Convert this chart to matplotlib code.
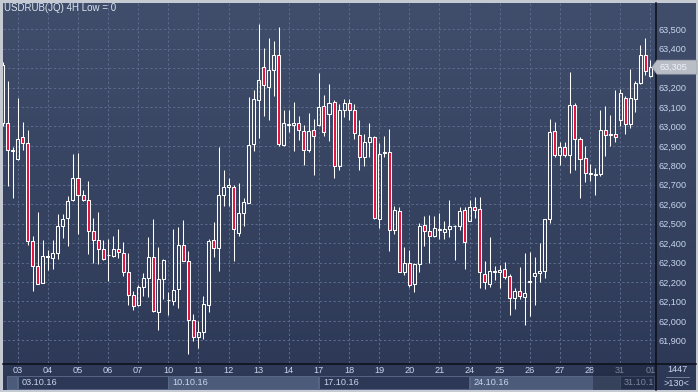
import numpy as np
import matplotlib
matplotlib.use("Agg")
import matplotlib.pyplot as plt
from matplotlib.patches import Rectangle, Polygon

# USDRUB 4H candles (130 visible bars)
opens = [63318, 63018, 62875, 62830, 62946, 62915, 62413, 62282, 62193, 62328,
         62324, 62350, 62487, 62529, 62620, 62735, 62649, 62622, 62464, 62418,
         62367, 62337, 62334, 62370, 62350, 62252, 62133, 62082, 62174, 62221,
         62329, 62045, 62216, 62105, 62101, 62164, 62392, 62310, 62003, 61917,
         61941, 62081, 62418, 62373, 62646, 62689, 62689, 62454, 62555, 62607,
         62910, 63137, 63305, 63204, 63290, 63368, 62903, 63008, 63008, 63018,
         62979, 62881, 62982, 63005, 63104, 63066, 63124, 62795, 63082, 63121,
         63082, 62955, 62843, 62919, 62946, 62522, 62862, 62871, 62466, 62566,
         62249, 62300, 62189, 62292, 62492, 62463, 62435, 62468, 62459, 62470,
         62486, 62488, 62572, 62516, 62588, 62576, 62241, 62191, 62250, 62250,
         62265, 62231, 62116, 62154, 62123, 62201, 62231, 62246, 62258, 62524,
         62975, 62854, 62893, 62852, 63109, 62934, 62838, 62756, 62751, 62756,
         62982, 62956, 62962, 63032, 63147, 63010, 63142, 63224, 63370, 63258]
highs = [63330, 63236, 62893, 63147, 63024, 62984, 62436, 62562, 62418, 62363,
         62415, 62547, 62547, 62641, 62856, 62864, 62675, 62721, 62530, 62560,
         62418, 62423, 62436, 62470, 62405, 62350, 62152, 62183, 62247, 62432,
         62525, 62382, 62319, 62148, 62471, 62484, 62521, 62358, 62035, 62000,
         62126, 62420, 62507, 62893, 62778, 62736, 62701, 62710, 62632, 63152,
         63185, 63525, 63405, 63456, 63442, 63512, 63087, 63087, 63125, 63053,
         63009, 63070, 63036, 63277, 63162, 63216, 63138, 63113, 63142, 63142,
         63113, 63032, 62960, 63018, 62953, 62913, 62953, 62986, 62591, 62586,
         62381, 62365, 62300, 62502, 62540, 62545, 62540, 62557, 62511, 62619,
         62495, 62584, 62584, 62624, 62636, 62639, 62310, 62429, 62280, 62289,
         62304, 62239, 62167, 62275, 62349, 62352, 62330, 62398, 62526, 63039,
         63022, 62922, 62919, 63281, 63118, 62946, 62900, 62809, 62787, 63085,
         63106, 63059, 63185, 63194, 63159, 63296, 63236, 63421, 63456, 63344]
lows = [63000, 62692, 62633, 62826, 62881, 62389, 62152, 62188, 62193, 62260,
        62265, 62320, 62426, 62387, 62615, 62445, 62615, 62342, 62298, 62290,
        62315, 62207, 62330, 62324, 62233, 62080, 62054, 62078, 62130, 62123,
        62046, 61951, 62110, 62032, 62080, 62067, 62308, 61830, 61895, 61858,
        61906, 62044, 62329, 62255, 62593, 62593, 62307, 62435, 62490, 62607,
        62876, 62941, 63053, 63032, 63155, 62898, 62901, 62970, 62872, 62932,
        62800, 62867, 62749, 63001, 62953, 62924, 62735, 62775, 63047, 63032,
        62936, 62775, 62795, 62843, 62526, 62478, 62843, 62357, 62449, 62249,
        62237, 62172, 62146, 62252, 62386, 62300, 62429, 62423, 62423, 62430,
        62313, 62469, 62266, 62516, 62528, 62170, 62163, 62174, 62210, 62170,
        62213, 62028, 62061, 62111, 61977, 62025, 62080, 62198, 62220, 62503,
        62842, 62802, 62842, 62759, 62778, 62631, 62715, 62718, 62647, 62746,
        62850, 62897, 62919, 63001, 62959, 62993, 63075, 63219, 63267, 63253]
closes = [63018, 62881, 62880, 62936, 62915, 62411, 62282, 62191, 62336, 62332,
          62350, 62487, 62524, 62615, 62735, 62649, 62620, 62462, 62418, 62367,
          62318, 62341, 62370, 62355, 62252, 62133, 62078, 62174, 62221, 62329,
          62050, 62213, 62315, 62109, 62161, 62392, 62308, 62003, 61917, 61943,
          62088, 62411, 62373, 62646, 62689, 62697, 62473, 62555, 62610, 62905,
          63142, 63238, 63211, 63290, 63368, 62910, 63018, 63012, 63018, 62980,
          62878, 62979, 62953, 63098, 62970, 63121, 62798, 63082, 63121, 63082,
          62964, 62843, 62921, 62946, 62529, 62857, 62871, 62466, 62569, 62249,
          62297, 62184, 62292, 62489, 62463, 62435, 62476, 62472, 62470, 62490,
          62490, 62567, 62407, 62588, 62572, 62250, 62198, 62254, 62258, 62263,
          62227, 62116, 62154, 62128, 62143, 62205, 62248, 62258, 62526, 62970,
          62854, 62893, 62852, 63109, 62934, 62831, 62758, 62760, 62755, 62982,
          62955, 62960, 62948, 63173, 63010, 63144, 63224, 63370, 63284, 63305]

# day labels (first bar of each day) and week labels
day_labels = ["03", "04", "05", "06", "07", "10", "11", "12", "13", "14", "17",
              "18", "19", "20", "21", "24", "25", "26", "27", "28", "31", "01"]
week_labels = ["03.10.16", "10.10.16", "17.10.16", "24.10.16", "31.10.1"]
price_ticks = list(range(61900, 63501, 100))
last_value = 63305

W, H = 698, 392
BG_TOP = "#404e6b"
BG_BOT = "#2c3856"
TXT = "#c9d5ec"
GRID = "#5b6a8c"
RED = "#e3123f"
LINE = "#0c0f18"


def px(x0, y0, x1, y1):
    return [x0 / W, 1 - y1 / H, (x1 - x0) / W, (y1 - y0) / H]


fig = plt.figure(figsize=(W / 100, H / 100), dpi=100)
fig.patch.set_facecolor("#c6cad2")

# gradient background for the whole chart area
bg = fig.add_axes(px(3, 3, 696, 390))
grad = np.linspace(0, 1, 256).reshape(-1, 1)
cmap = matplotlib.colors.LinearSegmentedColormap.from_list("bg", [BG_TOP, BG_BOT])
bg.imshow(grad, aspect="auto", cmap=cmap, extent=[0, 1, 0, 1], origin="upper")
bg.set_xlim(0, 1)
bg.set_ylim(0, 1)
bg.axis("off")

ax = fig.add_axes(px(3, 3, 655, 363))
ax.set_facecolor("none")

n = len(opens)
x = np.arange(n)
o = np.array(opens)
c = np.array(closes)
hi = np.array(highs)
lo = np.array(lows)
top = np.maximum(o, c)
bot = np.minimum(o, c)
up = c >= o

lw = 0.75
ax.vlines(x, top, hi, color="white", lw=lw, zorder=3)
ax.vlines(x, lo, bot, color="white", lw=lw, zorder=3)
ax.bar(x[up], (top - bot)[up], bottom=bot[up], width=0.6,
       facecolor="none", edgecolor="white", linewidth=lw, zorder=4)
ax.bar(x[~up], (top - bot)[~up], bottom=bot[~up], width=0.6,
       facecolor=RED, edgecolor="white", linewidth=lw, zorder=4)

ax.set_xlim(0.06, 129.94)
ax.set_ylim(61783, 63635)

day_pos = [3 + 6 * i for i in range(len(day_labels))]
ax.set_xticks(day_pos)
ax.set_xticklabels(day_labels)
ax.set_yticks(price_ticks)
# the 63,300 label is hidden behind the last-price marker
ax.set_yticklabels([f"{p:,}" if abs(p - last_value) > 50 else "" for p in price_ticks])
ax.yaxis.tick_right()
ax.tick_params(axis="both", length=0, labelcolor=TXT, labelsize=6.6)
ax.tick_params(axis="x", pad=2.5)
ax.tick_params(axis="y", pad=2.5)
for lab in ax.get_xticklabels() + ax.get_yticklabels():
    lab.set_fontfamily("Liberation Sans")

ax.grid(True, color=GRID, linestyle=(0, (2.2, 2.2)), linewidth=0.75, zorder=0)
for s in ["top", "left", "bottom", "right"]:
    ax.spines[s].set_visible(False)

# black separators: under the plot and left of the price scale
fig.lines.append(plt.Line2D([3 / W, 696 / W], [1 - 363.5 / H] * 2,
                            transform=fig.transFigure, color=LINE, lw=1.1))
fig.lines.append(plt.Line2D([655.5 / W] * 2, [1 - 3 / H, 1 - 390 / H],
                            transform=fig.transFigure, color=LINE, lw=1.1))

# title
fig.text(4 / W, 1 - 8 / H, "USDRUB(JQ) 4H Low = 0", color="#dde4f0",
         fontsize=7, family="Liberation Sans", va="center", ha="left")

# week band under the day labels (alternating shade)
band = fig.add_axes(px(3, 375, 655, 390))
band.set_xlim(ax.get_xlim())
band.set_ylim(0, 1)
band.axis("off")
week_starts = [3 + 30 * i for i in range(len(week_labels))]
band.add_patch(Rectangle((0.9, 0.05), 2.0, 0.9, facecolor="#4c5b7a",
                         edgecolor="#5d6c8c", lw=0.6))
for i, (ws, wl) in enumerate(zip(week_starts, week_labels)):
    we = min(ws + 30, 129.94)
    fc = "#4c5b7a" if i % 2 == 1 else "none"
    band.add_patch(Rectangle((ws, 0.05), (we - ws) - 0.1, 0.9, facecolor=fc,
                             edgecolor="#5d6c8c", lw=0.6))
    band.text(ws + 0.8, 0.5, wl, color=TXT, fontsize=6.6,
              family="Liberation Sans", va="center", ha="left")

# darker overlay for the last days (scroll region)
fig.patches.append(Rectangle((593 / W, 1 - 390 / H), 62 / W, 26 / H,
                             transform=fig.transFigure, facecolor="#1c2438",
                             alpha=0.45, edgecolor="none"))

# right-bottom info box
fig.text(677 / W, 1 - 370 / H, "1447", color=TXT, fontsize=6.6,
         family="Liberation Sans", ha="center", va="center")
fig.text(677 / W, 1 - 383 / H, ">130<", color=TXT, fontsize=6.6,
         family="Liberation Sans", ha="center", va="center")
fig.lines.append(plt.Line2D([666 / W, 689 / W], [1 - 376.5 / H] * 2,
                            transform=fig.transFigure, color="#7d8aa6", lw=0.6))

# current price marker
yl = ax.transData.transform((0, last_value))[1] / H
marker = Polygon([(652 / W, yl), (657 / W, yl + 7 / H),
                  (697 / W, yl + 7 / H), (697 / W, yl - 7 / H),
                  (657 / W, yl - 7 / H)], closed=True,
                 transform=fig.transFigure, facecolor="#b9bdc5",
                 edgecolor="#9ea4ae", lw=0.5, zorder=5)
fig.add_artist(marker)
fig.text(659 / W, yl, f"{last_value:,}", color="#eef3fb", fontsize=6.6,
         family="Liberation Sans", ha="left", va="center", zorder=6)

fig.savefig("out.png", dpi=100, facecolor=fig.get_facecolor())
